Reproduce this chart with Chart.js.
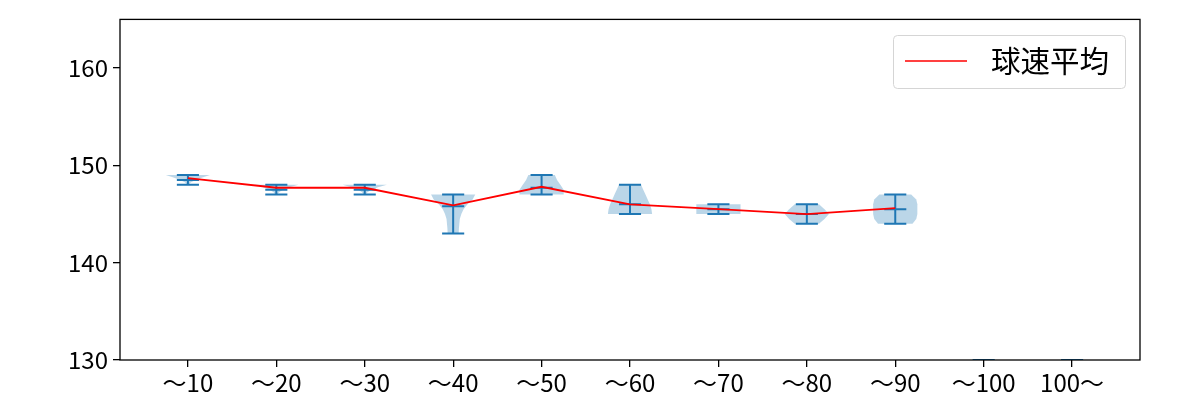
<!DOCTYPE html>
<html><head><meta charset="utf-8">
<script src="https://cdn.jsdelivr.net/npm/chart.js@4/dist/chart.umd.min.js"></script>
<style>html,body{margin:0;padding:0;background:#fff}#wrap{width:1200px;height:400px}</style>
</head><body><div id="wrap"><canvas id="c" width="1200" height="400"></canvas></div>
<script>
// ---- data ----
const categories = ['〜10','〜20','〜30','〜40','〜50','〜60','〜70','〜80','〜90','〜100','100〜'];
const yTicks = [130, 140, 150, 160];
const meanSpeed = [148.7, 147.7, 147.7, 145.9, 147.8, 146.0, 145.5, 145.0, 145.6];
const minSpeed = [148, 147, 147, 143, 147, 145, 145, 144, 144, 130, 130];
const maxSpeed = [149, 148, 148, 147, 149, 148, 146, 146, 147, 130, 130];
const medianSpeed = [148.5, 147.5, 147.5, 145.8, 147.7, 146.0, 145.5, 145.0, 145.5, 130, 130];
// relative density sampled evenly from min to max speed
const densityProfile = [
  [0.05, 0.12, 0.35, 0.65, 1.0],
  [0.05, 0.12, 0.3, 0.6, 1.0],
  [0.05, 0.12, 0.3, 0.6, 1.0],
  [0.25, 0.26, 0.28, 0.30, 0.37, 0.47, 0.65, 0.88, 1.0],
  [1.0, 1.0, 0.85, 0.7, 0.6],
  [1.0, 0.97, 0.9, 0.8, 0.7, 0.6, 0.5],
  [1.0, 1.0, 1.0],
  [0.55, 0.8, 1.0, 0.8, 0.55],
  [0.78, 0.95, 1.0, 1.0, 1.0, 0.95, 0.72],
  [],
  []
];
const legendLabel = '球速平均';

// ---- chart ----
const FONT = "'Noto Sans CJK JP', 'Noto Sans', sans-serif";
Chart.defaults.font.family = FONT;
Chart.defaults.color = '#000';

const violinPlugin = {
  id: 'violins',
  beforeDatasetsDraw(chart) {
    const ctx = chart.ctx, xs = chart.scales.x, ys = chart.scales.y, a = chart.chartArea;
    ctx.save();
    ctx.beginPath(); ctx.rect(a.left, a.top, a.right - a.left, a.bottom - a.top); ctx.clip();
    categories.forEach((c, i) => {
      const pos = i + 1, prof = densityProfile[i], lo = minSpeed[i], hi = maxSpeed[i];
      if (prof.length > 1) {
        const n = prof.length;
        ctx.beginPath();
        for (let k = 0; k < n; k++) {
          const v = lo + (hi - lo) * k / (n - 1);
          const px = xs.getPixelForValue(pos - 0.25 * prof[k]), py = ys.getPixelForValue(v);
          k === 0 ? ctx.moveTo(px, py) : ctx.lineTo(px, py);
        }
        for (let k = n - 1; k >= 0; k--) {
          const v = lo + (hi - lo) * k / (n - 1);
          ctx.lineTo(xs.getPixelForValue(pos + 0.25 * prof[k]), ys.getPixelForValue(v));
        }
        ctx.closePath();
        ctx.fillStyle = 'rgba(31,119,180,0.3)';
        ctx.fill();
      }
      ctx.strokeStyle = '#1f77b4';
      ctx.lineWidth = 2;
      const cx = xs.getPixelForValue(pos);
      ctx.beginPath();
      ctx.moveTo(cx, ys.getPixelForValue(lo)); ctx.lineTo(cx, ys.getPixelForValue(hi));
      [lo, hi, medianSpeed[i]].forEach(v => {
        const py = ys.getPixelForValue(v);
        ctx.moveTo(xs.getPixelForValue(pos - 0.125), py);
        ctx.lineTo(xs.getPixelForValue(pos + 0.125), py);
      });
      ctx.stroke();
    });
    ctx.restore();
  },
  afterDraw(chart) {
    const ctx = chart.ctx, a = chart.chartArea;
    ctx.save();
    ctx.strokeStyle = '#000'; ctx.lineWidth = 1.3;
    ctx.strokeRect(a.left, a.top, a.right - a.left, a.bottom - a.top);
    // legend
    const bx = 893.5, by = 35.5, bw = 232, bh = 53, r = 4;
    ctx.beginPath();
    ctx.moveTo(bx + r, by); ctx.lineTo(bx + bw - r, by); ctx.arcTo(bx + bw, by, bx + bw, by + r, r);
    ctx.lineTo(bx + bw, by + bh - r); ctx.arcTo(bx + bw, by + bh, bx + bw - r, by + bh, r);
    ctx.lineTo(bx + r, by + bh); ctx.arcTo(bx, by + bh, bx, by + bh - r, r);
    ctx.lineTo(bx, by + r); ctx.arcTo(bx, by, bx + r, by, r);
    ctx.closePath();
    ctx.fillStyle = 'rgba(255,255,255,0.8)'; ctx.fill();
    ctx.strokeStyle = '#d5d5d5'; ctx.lineWidth = 1; ctx.stroke();
    ctx.strokeStyle = '#ff0000'; ctx.lineWidth = 1.7;
    ctx.beginPath(); ctx.moveTo(905, 61); ctx.lineTo(967, 61); ctx.stroke();
    ctx.fillStyle = '#000'; ctx.font = '29.5px ' + FONT;
    ctx.textBaseline = 'middle'; ctx.textAlign = 'left';
    ctx.fillText(legendLabel, 991, 61);
    ctx.restore();
  }
};

new Chart(document.getElementById('c'), {
  type: 'line',
  data: {
    datasets: [{
      label: legendLabel,
      data: meanSpeed.map((v, i) => ({ x: i + 1, y: v })),
      borderColor: '#ff0000',
      borderWidth: 1.8,
      pointRadius: 0,
      tension: 0,
      fill: false
    }]
  },
  options: {
    responsive: false,
    animation: false,
    devicePixelRatio: 1,
    layout: { padding: { top: 19, right: 60, left: 0, bottom: 0 } },
    plugins: { legend: { display: false }, tooltip: { enabled: false } },
    scales: {
      x: {
        type: 'linear',
        min: 0.232, max: 11.768,
        afterBuildTicks: s => { s.ticks = categories.map((c, i) => ({ value: i + 1 })); },
        afterFit: s => { s.height = 40; },
        ticks: { callback: v => categories[Math.round(v) - 1] || '', font: { size: 24 }, padding: 1, maxRotation: 0, autoSkip: false },
        grid: { display: true, drawOnChartArea: false, drawTicks: true, tickLength: 7, color: '#000', lineWidth: 1.3 },
        border: { display: false }
      },
      y: {
        min: 130, max: 165,
        afterBuildTicks: s => { s.ticks = yTicks.map(v => ({ value: v })); },
        afterFit: s => { s.width = 120; },
        ticks: { font: { size: 24 }, padding: 5 },
        grid: { display: true, drawOnChartArea: false, drawTicks: true, tickLength: 7, color: '#000', lineWidth: 1.3 },
        border: { display: false }
      }
    }
  },
  plugins: [violinPlugin]
});
</script>
</body></html>
